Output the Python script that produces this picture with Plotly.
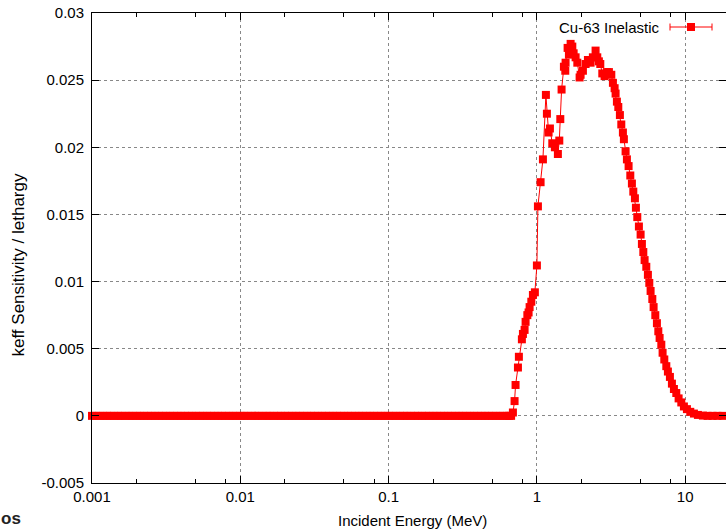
import plotly.graph_objects as go

# ---------------- data ----------------
# Incident energy (MeV) and keff sensitivity per lethargy, Cu-63 inelastic
energy_zero = [
    0.00100, 0.00106, 0.00112, 0.00119, 0.00126, 0.00133, 0.00141, 0.00150, 0.00158, 0.00168,
    0.00178, 0.00188, 0.00200, 0.00211, 0.00224, 0.00237, 0.00251, 0.00266, 0.00282, 0.00299,
    0.00316, 0.00335, 0.00355, 0.00376, 0.00398, 0.00422, 0.00447, 0.00473, 0.00501, 0.00531,
    0.00562, 0.00596, 0.00631, 0.00668, 0.00708, 0.00750, 0.00794, 0.00841, 0.00891, 0.00944,
    0.0100, 0.0106, 0.0112, 0.0119, 0.0126, 0.0133, 0.0141, 0.0150, 0.0158, 0.0168,
    0.0178, 0.0188, 0.0200, 0.0211, 0.0224, 0.0237, 0.0251, 0.0266, 0.0282, 0.0299,
    0.0316, 0.0335, 0.0355, 0.0376, 0.0398, 0.0422, 0.0447, 0.0473, 0.0501, 0.0531,
    0.0562, 0.0596, 0.0631, 0.0668, 0.0708, 0.0750, 0.0794, 0.0841, 0.0891, 0.0944,
    0.100, 0.106, 0.112, 0.119, 0.126, 0.133, 0.141, 0.150, 0.158, 0.168,
    0.178, 0.188, 0.200, 0.211, 0.224, 0.237, 0.251, 0.266, 0.282, 0.299,
    0.316, 0.335, 0.355, 0.376, 0.398, 0.422, 0.447, 0.473, 0.501, 0.531,
    0.562, 0.596, 0.631, 0.650, 0.670,
]
sens_zero = [
    0, 0, 0, 0, 0, 0, 0, 0, 0, 0,
    0, 0, 0, 0, 0, 0, 0, 0, 0, 0,
    0, 0, 0, 0, 0, 0, 0, 0, 0, 0,
    0, 0, 0, 0, 0, 0, 0, 0, 0, 0,
    0, 0, 0, 0, 0, 0, 0, 0, 0, 0,
    0, 0, 0, 0, 0, 0, 0, 0, 0, 0,
    0, 0, 0, 0, 0, 0, 0, 0, 0, 0,
    0, 0, 0, 0, 0, 0, 0, 0, 0, 0,
    0, 0, 0, 0, 0, 0, 0, 0, 0, 0,
    0, 0, 0, 0, 0, 0, 0, 0, 0, 0,
    0, 0, 0, 0, 0, 0, 0, 0, 0, 0,
    0, 0, 0, 0, 0,
]
energy_fast = [
    0.689, 0.707, 0.718, 0.745, 0.756, 0.792, 0.805, 0.826, 0.839, 0.862,
    0.879, 0.893, 0.917, 0.940, 0.969, 1.000, 1.016, 1.059, 1.098, 1.150,
    1.168, 1.199, 1.224, 1.270, 1.322, 1.385, 1.416, 1.438, 1.467, 1.521,
    1.554, 1.561, 1.611, 1.644, 1.688, 1.733, 1.769, 1.824, 1.873, 1.941,
    1.971, 2.043, 2.130, 2.208, 2.302, 2.385, 2.487, 2.554, 2.618, 2.676,
    2.760, 2.861, 2.965, 3.059, 3.175, 3.255, 3.342, 3.394, 3.463, 3.539,
    3.628, 3.708, 3.801, 3.860, 3.963, 4.045, 4.152, 4.264, 4.371, 4.467,
    4.580, 4.652, 4.753, 4.873, 5.004, 5.105, 5.218, 5.324, 5.466, 5.604,
    5.727, 5.844, 6.001, 6.123, 6.287, 6.445, 6.587, 6.721, 6.901, 7.041,
    7.229, 7.458, 7.645, 7.887, 8.135, 8.392, 8.710, 9.027, 9.413, 9.800,
    10.27, 10.82, 11.45, 12.18, 13.16, 14.16, 15.30, 16.50, 17.90, 19.50,
]
sens_fast = [
    0.00025, 0.0011, 0.0023, 0.0036, 0.0044, 0.0057, 0.0061, 0.0064, 0.0070, 0.0075,
    0.0077, 0.0081, 0.0085, 0.0090, 0.0092, 0.0112, 0.0156, 0.0174, 0.0191, 0.0239,
    0.0225, 0.0211, 0.0214, 0.0203, 0.0200, 0.0195, 0.0205, 0.0221, 0.0243, 0.0260,
    0.0257, 0.0263, 0.0274, 0.0269, 0.0277, 0.0275, 0.0270, 0.0267, 0.0263, 0.0252,
    0.0254, 0.0257, 0.0262, 0.0265, 0.0263, 0.0267, 0.0272, 0.0267, 0.0264, 0.0262,
    0.0255, 0.0253, 0.0256, 0.0256, 0.0254, 0.0248, 0.0244, 0.0240, 0.0234, 0.0230,
    0.0224, 0.0217, 0.0211, 0.0206, 0.0197, 0.0191, 0.0186, 0.0179, 0.0173, 0.0167,
    0.0162, 0.0155, 0.0148, 0.0141, 0.0135, 0.0128, 0.0122, 0.0116, 0.0111, 0.0105,
    0.0099, 0.0093, 0.0087, 0.0081, 0.0075, 0.0069, 0.0063, 0.0058, 0.0053, 0.0047,
    0.0042, 0.0037, 0.0033, 0.0029, 0.0024, 0.0020, 0.0017, 0.0013, 0.0010, 0.0007,
    0.0005, 0.0003, 0.00017, 0.00007, 0.00002, 0.0, 0.0, 0.0, 0.0, 0.0,
]

series_name = "Cu-63 Inelastic"
x_tickvals = [0.001, 0.01, 0.1, 1, 10]
x_ticktext = ["0.001", "0.01", "0.1", "1", "10"]
x_minor = [0.002, 0.005, 0.008, 0.02, 0.05, 0.08, 0.2, 0.5, 0.8, 2, 5, 8, 20]
y_tickvals = [-0.005, 0, 0.005, 0.01, 0.015, 0.02, 0.025, 0.03]
y_ticktext = ["-0.005", "0", "0.005", "0.01", "0.015", "0.02", "0.025", "0.03"]
x_title = "Incident Energy (MeV)"
y_title = "keff Sensitivity / lethargy"

energy = energy_zero + energy_fast
sens = sens_zero + sens_fast

# ---------------- layout geometry ----------------
W, H = 726, 530
L, R, T, B = 92, 0, 13, 47
PW, PH = W - L - R, H - T - B
RED = "#ff0000"
FONT = "Liberation Sans"


def px(x):
    return (x - L) / PW


def py(y):
    return (H - B - y) / PH


fig = go.Figure()
fig.add_trace(go.Scatter(
    x=energy, y=sens, mode="lines+markers", name=series_name,
    line=dict(color=RED, width=1),
    marker=dict(symbol="square", size=8, color=RED, line=dict(width=0)),
    cliponaxis=False, showlegend=False,
))

axis_common = dict(
    showline=True, linecolor="black", linewidth=1, mirror="allticks",
    ticks="inside", ticklen=7, tickcolor="black", tickwidth=1,
    showgrid=True, gridcolor="#888888", griddash="dot", gridwidth=1,
    zeroline=False, tickfont=dict(family=FONT, size=15, color="black"),
)

fig.update_layout(
    width=W, height=H,
    margin=dict(l=L, r=R, t=T, b=B, pad=0),
    plot_bgcolor="white", paper_bgcolor="white",
    font=dict(family=FONT, size=15, color="black"),
    showlegend=False,
    xaxis=dict(
        type="log", range=[-3, -3 + PW / 148.3],
        tickmode="array", tickvals=x_tickvals, ticktext=x_ticktext,
        minor=dict(tickmode="array", tickvals=x_minor, ticks="inside",
                   ticklen=4, tickcolor="black", showgrid=False),
        **axis_common,
    ),
    yaxis=dict(
        range=[-0.005, 0.03],
        tickmode="array", tickvals=y_tickvals, ticktext=y_ticktext,
        ticklabelstandoff=4,
        **axis_common,
    ),
)

annotations = [
    dict(text=x_title, x=px(412), y=py(520), xref="paper", yref="paper",
         xanchor="center", yanchor="middle", showarrow=False,
         font=dict(family=FONT, size=15)),
    dict(text=y_title, x=px(17.5), y=py(265), xref="paper", yref="paper",
         xanchor="center", yanchor="middle", showarrow=False, textangle=-90,
         font=dict(family=FONT, size=17)),
    dict(text=series_name, x=px(662), y=py(27), xref="paper", yref="paper",
         xanchor="right", yanchor="middle", showarrow=False,
         font=dict(family=FONT, size=15)),
    dict(text="<b>os</b>", x=px(-1), y=py(518), xref="paper", yref="paper",
         xanchor="left", yanchor="middle", showarrow=False,
         font=dict(family=FONT, size=17, color="#222222")),
]
fig.update_layout(annotations=annotations)

# legend key: line with error-bar caps and a square marker
ly = 27
shapes = [
    dict(type="line", xref="paper", yref="paper", x0=px(670), x1=px(712),
         y0=py(ly), y1=py(ly), line=dict(color=RED, width=1)),
    dict(type="line", xref="paper", yref="paper", x0=px(670), x1=px(670),
         y0=py(ly - 3.5), y1=py(ly + 3.5), line=dict(color=RED, width=1)),
    dict(type="line", xref="paper", yref="paper", x0=px(712), x1=px(712),
         y0=py(ly - 3.5), y1=py(ly + 3.5), line=dict(color=RED, width=1)),
    dict(type="rect", xref="paper", yref="paper", x0=px(687), x1=px(695),
         y0=py(ly - 4), y1=py(ly + 4), line=dict(width=0), fillcolor=RED),
]
fig.update_layout(shapes=shapes)

fig.write_html(
    "out.html",
    config={"displayModeBar": False},
    post_script="document.body.style.margin='0';document.body.style.overflow='hidden';",
)
